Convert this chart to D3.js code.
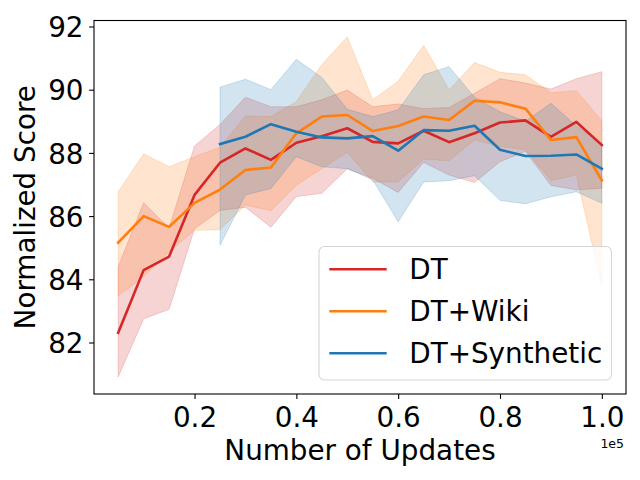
<!DOCTYPE html>
<html>
<head>
<meta charset="utf-8">
<script src="https://cdn.jsdelivr.net/npm/d3@7/dist/d3.min.js"></script>
<style>
  html, body { margin: 0; padding: 0; background: #fff; }
  svg { display: block; font-family: "DejaVu Sans", sans-serif; }
</style>
</head>
<body>
<svg id="chart" width="640" height="480"></svg>
<script>
// ---- data (x in units of 1e5 updates) ----
const xsAll = [0.05,0.10,0.15,0.20,0.25,0.30,0.35,0.40,0.45,0.50,0.55,0.60,0.65,0.70,0.75,0.80,0.85,0.90,0.95,1.00];
const xsSyn = [0.25,0.30,0.35,0.40,0.45,0.50,0.55,0.60,0.65,0.70,0.75,0.80,0.85,0.90,0.95,1.00];

const dtMean  = [82.31,84.29,84.72,86.67,87.69,88.14,87.78,88.32,88.53,88.78,88.35,88.30,88.70,88.34,88.62,88.96,89.03,88.51,88.98,88.25];
const dtLower = [80.91,82.75,83.05,85.60,86.18,86.28,85.65,86.62,86.72,87.50,87.20,86.75,87.70,87.30,87.06,87.72,88.05,86.97,86.83,86.88];
const dtUpper = [84.40,86.42,85.62,88.22,88.90,89.76,89.46,89.46,89.68,89.99,89.46,89.55,89.40,89.44,89.89,90.35,90.21,90.02,90.35,90.57];

const wikiMean  = [85.16,86.00,85.66,86.42,86.84,87.46,87.54,88.62,89.15,89.20,88.69,88.85,89.15,89.04,89.65,89.60,89.40,88.41,88.50,87.13];
const wikiLower = [83.48,84.08,84.87,85.55,85.57,86.35,86.17,86.98,87.50,88.02,87.08,87.08,87.80,87.75,88.41,88.20,88.10,87.12,87.30,83.77];
const wikiUpper = [86.77,87.97,87.56,87.88,88.18,89.17,89.15,89.62,90.80,91.67,89.68,90.27,91.41,89.99,90.86,90.55,90.47,89.90,89.97,89.02];

const synMean  = [88.28,88.51,88.91,88.67,88.49,88.46,88.53,88.07,88.72,88.70,88.86,88.10,87.90,87.91,87.95,87.50];
const synLower = [85.08,86.67,86.87,87.88,87.56,87.50,87.15,85.82,87.08,87.12,87.28,86.50,86.39,86.61,86.77,86.41];
const synUpper = [90.08,90.33,90.00,90.96,90.39,89.38,89.15,89.36,90.47,90.73,89.76,89.30,89.00,89.57,88.85,88.30];

const seriesNames = ["DT", "DT+Wiki", "DT+Synthetic"];
const xTicks = [0.2, 0.4, 0.6, 0.8, 1.0];
const yTicks = [82, 84, 86, 88, 90, 92];

// ---- layout ----
const svg = d3.select("#chart");
const L = 94, R = 626, T = 20.5, B = 394;
const x = d3.scaleLinear().domain([0.0025, 1.0475]).range([L, R]);
const y = d3.scaleLinear().domain([80.37, 92.19]).range([B, T]);

const colors = ["#d62728", "#ff7f0e", "#1f77b4"];
const series = [
  {xs: xsAll, m: dtMean, lo: dtLower, hi: dtUpper},
  {xs: xsAll, m: wikiMean, lo: wikiLower, hi: wikiUpper},
  {xs: xsSyn, m: synMean, lo: synLower, hi: synUpper}
];

const bandsG = svg.append("g");
const linesG = svg.append("g");
series.forEach((s, i) => {
  const pts = s.xs.map((xv, j) => ({x: xv, m: s.m[j], lo: s.lo[j], hi: s.hi[j]}));
  const line = d3.line().x(d => x(d.x)).y(d => y(d.m));
  const area = d3.area().x(d => x(d.x)).y0(d => y(d.lo)).y1(d => y(d.hi));
  bandsG.append("path").datum(pts).attr("d", area)
    .attr("fill", colors[i]).attr("fill-opacity", 0.2)
    .attr("stroke", colors[i]).attr("stroke-opacity", 0.2).attr("stroke-width", 1);
  linesG.append("path").datum(pts).attr("d", line)
    .attr("fill", "none").attr("stroke", colors[i]).attr("stroke-width", 2.6)
    .attr("stroke-linejoin", "round").attr("stroke-linecap", "square");
});

// ---- axes ----
const fs = 27.8;
const xAxis = d3.axisBottom(x).tickValues(xTicks).tickFormat(d3.format(".1f")).tickSizeOuter(0).tickSize(4.9).tickPadding(4.9);
const gx = svg.append("g").attr("transform", `translate(0,${B})`).call(xAxis);
gx.select(".domain").remove();
gx.selectAll("line").attr("stroke", "#000").attr("stroke-width", 1.1);
gx.selectAll("text").attr("font-size", fs).attr("fill", "#000")
  .attr("font-family", "DejaVu Sans").attr("dy", null).attr("y", 33);

const yAxis = d3.axisLeft(y).tickValues(yTicks).tickFormat(d3.format("d")).tickSizeOuter(0).tickSize(4.9).tickPadding(4.9);
const gy = svg.append("g").attr("transform", `translate(${L},0)`).call(yAxis);
gy.select(".domain").remove();
gy.selectAll("line").attr("stroke", "#000").attr("stroke-width", 1.1);
gy.selectAll("text").attr("font-size", fs).attr("fill", "#000")
  .attr("font-family", "DejaVu Sans").attr("dy", null).attr("y", 10.1).attr("x", -10.5);

// spines
svg.append("rect").attr("x", L).attr("y", T).attr("width", R - L).attr("height", B - T)
  .attr("fill", "none").attr("stroke", "#000").attr("stroke-width", 1.1);

// labels
svg.append("text").attr("x", (L + R) / 2).attr("y", 460).attr("text-anchor", "middle")
  .attr("font-size", fs).attr("fill", "#000").text("Number of Updates");
svg.append("text").attr("transform", `translate(35,${(T + B) / 2}) rotate(-90)`)
  .attr("text-anchor", "middle").attr("font-size", fs).attr("fill", "#000").text("Normalized Score");
svg.append("text").attr("x", R - 2).attr("y", 447.5).attr("text-anchor", "end")
  .attr("font-size", 12.5).attr("fill", "#000").text("1e5");

// ---- legend ----
const lg = svg.append("g");
lg.append("rect").attr("x", 319).attr("y", 246.5).attr("width", 292.5).attr("height", 133.5)
  .attr("rx", 5.5).attr("ry", 5.5)
  .attr("fill", "#fff").attr("fill-opacity", 0.8)
  .attr("stroke", "#d6d6d6").attr("stroke-width", 1.1);
seriesNames.forEach((name, i) => {
  const yy = 269.3 + i * 42;
  lg.append("line").attr("x1", 329.3).attr("x2", 386.7).attr("y1", yy).attr("y2", yy)
    .attr("stroke", colors[i]).attr("stroke-width", 2.6);
  lg.append("text").attr("x", 409.3).attr("y", yy + 10.1).attr("font-size", fs)
    .attr("fill", "#000").text(name);
});
</script>
</body>
</html>
